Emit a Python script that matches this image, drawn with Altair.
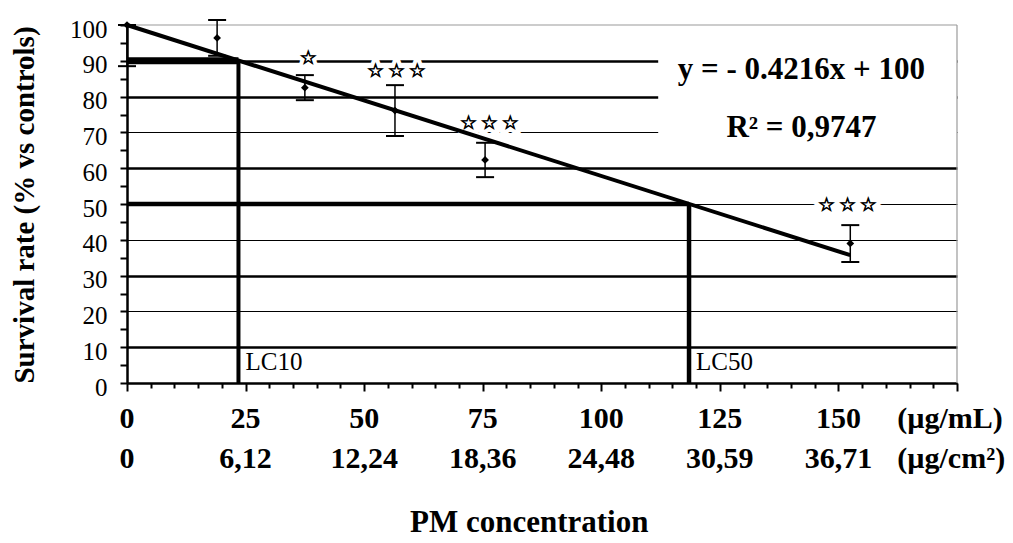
import altair as alt
import pandas as pd

FONT = "Liberation Serif"
STAR_FONT = "DejaVu Sans"

# ---- data ----
conc = [0, 19, 37.5, 56.5, 75.5, 152.5]          # µg/mL
mean = [100, 96.4, 82.5, 76.1, 62.3, 39.0]       # survival %
low = [88.5, 91.4, 79.0, 69.0, 57.5, 33.8]
high = [100, 101.4, 86.0, 83.2, 67.1, 44.1]

star_x = [38.2, 56.8, 76.4, 151.9]
star_y = [90.8, 87.2, 72.6, 49.7]
S = "\u2606"
T = "\u2009"
star_text = [S, S + T + S + T + S, S + T + S + T + S, S + T + S + T + S]

trend_x = [0, 152.5]
trend_y = [100, 35.7]

lc_label = ["LC10", "LC50"]
lc_x = [23.5, 118.5]
lc_y = [90, 50]

tick_ml = [0, 25, 50, 75, 100, 125, 150]
label_ml = ["0", "25", "50", "75", "100", "125", "150"]
label_cm = ["0", "6,12", "12,24", "18,36", "24,48", "30,59", "36,71"]
unit_ml = "(\u00b5g/mL)"
unit_cm = "(\u00b5g/cm\u00b2)"
x_title = "PM concentration"
y_title = "Survival rate (% vs controls)"

equation = "y = - 0.4216x + 100"
r2_text = "R\u00b2 = 0,9747"
eq_x = 142.2
eq_y = [87.4, 71.2]
box_x = [112, 175]
box_y = [61, 100]

# ---- scales / axes ----
xs = alt.Scale(domain=[0, 175], nice=False, zero=False)
ys = alt.Scale(domain=[0, 100], nice=False)

xaxis = alt.Axis(
    values=list(range(0, 176, 5)), labels=False, title=None, grid=False,
    domainColor="black", domainWidth=2.5, tickColor="black", tickWidth=2,
    tickSize={"condition": {"test": "datum.value % 25 === 0", "value": 8}, "value": 5},
)
yaxis = alt.Axis(
    values=list(range(0, 101, 5)),
    labelExpr="datum.value % 10 === 0 ? datum.label : ''",
    labelFont=FONT, labelFontSize=25, labelColor="black", labelPadding=13,
    labelOverlap=False, labelOffset=4, title=None,
    domainColor="black", domainWidth=2.5, tickColor="black", tickWidth=2, tickSize=7,
    grid=True, gridColor="black",
    gridWidth={"condition": {"test": "indexof([10, 30, 60, 80, 90], datum.value) >= 0", "value": 2.5}, "value": 1.2},
    gridOpacity={"condition": {"test": "datum.value % 10 !== 0 || datum.value >= 100", "value": 0}, "value": 1},
)


def X(f):
    return alt.X(f, type="quantitative", scale=xs, axis=xaxis, title=None)


def Y(f):
    return alt.Y(f, type="quantitative", scale=ys, axis=yaxis, title=None)


pts = pd.DataFrame({"conc": conc, "mean": mean, "low": low, "high": high})
caps = pd.DataFrame({"conc": conc + conc, "v": low + high})
stars = pd.DataFrame({"x": star_x, "y": star_y, "t": star_text})
trend = pd.DataFrame({"x": trend_x, "y": trend_y})
lcs = pd.DataFrame({"x": lc_x, "y": lc_y, "t": lc_label})
box = pd.DataFrame({"x": [box_x[0]], "x2": [box_x[1]], "y": [box_y[0]], "y2": [box_y[1]]})

refs = pd.DataFrame({
    "x": [0, 0, lc_x[0], lc_x[1], 0, 175],
    "x2": [lc_x[0], lc_x[1], lc_x[0], lc_x[1], 175, 175],
    "y": [lc_y[0], lc_y[1], 0, 0, 100, 0],
    "y2": [lc_y[0], lc_y[1], lc_y[0], lc_y[1], 100, 100],
    "w": [7, 4.5, 4, 4.5, 1.2, 1.2],
    "c": ["black", "black", "black", "black", "#9a9a9a", "#9a9a9a"],
})

row1 = pd.DataFrame({"x": tick_ml, "t": label_ml})
row2 = pd.DataFrame({"x": tick_ml, "t": label_cm})
units = pd.DataFrame({"x": [162.4, 162.4], "t": [unit_ml, unit_cm], "r": [0, 1]})
eqs = pd.DataFrame({"x": [eq_x, eq_x], "y": eq_y, "t": [equation, r2_text]})
one = pd.DataFrame({"t": [y_title]})
xt = pd.DataFrame({"x": [84.8], "t": [x_title]})

box_layer = alt.Chart(box).mark_rect(fill="white", strokeWidth=0).encode(
    x=X("x"), x2="x2", y=Y("y"), y2="y2")

halo = alt.Chart(stars).mark_text(font=STAR_FONT, fontSize=19, fontWeight="bold", stroke="white",
                                  strokeWidth=9, fill="white", baseline="middle").encode(
    x=X("x"), y=Y("y"), text="t")

ref_layer = alt.Chart(refs).mark_rule().encode(
    x=X("x"), x2="x2", y=Y("y"), y2="y2",
    strokeWidth=alt.StrokeWidth("w:Q", scale=None),
    color=alt.Color("c:N", scale=None))

err = alt.Chart(pts).mark_rule(color="black", strokeWidth=1.5).encode(
    x=X("conc"), y=Y("low"), y2="high")

cap_layer = alt.Chart(caps).mark_point(shape="M-1,0L1,0", size=324, color="black",
                                       strokeWidth=2, filled=False, opacity=1).encode(
    x=X("conc"), y=Y("v"))

trend_layer = alt.Chart(trend).mark_line(color="black", strokeWidth=4).encode(
    x=X("x"), y=Y("y"))

pt_layer = alt.Chart(pts).mark_point(shape="diamond", filled=True, size=60, color="black",
                                     opacity=1).encode(x=X("conc"), y=Y("mean"))

star_layer = alt.Chart(stars).mark_text(font=STAR_FONT, fontSize=19, fontWeight="bold",
                                        color="black", stroke="black", strokeWidth=0.8,
                                        baseline="middle").encode(
    x=X("x"), y=Y("y"), text="t")

eq_layer = alt.Chart(eqs).mark_text(font=FONT, fontSize=31, fontWeight="bold", color="black",
                                    baseline="middle").encode(
    x=X("x"), y=Y("y"), text="t")

lc_layer = alt.Chart(lcs).mark_text(font=FONT, fontSize=25, color="black", align="left",
                                    baseline="middle", dx=7).encode(
    x=X("x"), y=alt.value(337), text="t")

row1_layer = alt.Chart(row1).mark_text(font=FONT, fontSize=30, fontWeight="bold", color="black",
                                       baseline="alphabetic").encode(
    x=X("x"), y=alt.value(403), text="t")
row2_layer = alt.Chart(row2).mark_text(font=FONT, fontSize=30, fontWeight="bold", color="black",
                                       baseline="alphabetic").encode(
    x=X("x"), y=alt.value(443), text="t")
unit1 = alt.Chart(units).transform_filter("datum.r == 0").mark_text(
    font=FONT, fontSize=30, fontWeight="bold", color="black", align="left",
    baseline="alphabetic").encode(x=X("x"), y=alt.value(403), text="t")
unit2 = alt.Chart(units).transform_filter("datum.r == 1").mark_text(
    font=FONT, fontSize=30, fontWeight="bold", color="black", align="left",
    baseline="alphabetic").encode(x=X("x"), y=alt.value(443), text="t")

xtitle = alt.Chart(xt).mark_text(font=FONT, fontSize=31, fontWeight="bold", color="black",
                                 baseline="alphabetic").encode(
    x=X("x"), y=alt.value(507), text="t")
ytitle = alt.Chart(one).mark_text(font=FONT, fontSize=29, fontWeight="bold", color="black",
                                  angle=270, baseline="alphabetic", align="center").encode(
    x=alt.value(-93), y=alt.value(180), text="t")

chart = alt.layer(
    box_layer, halo, ref_layer, err, cap_layer, trend_layer, pt_layer, star_layer,
    eq_layer, lc_layer, row1_layer, row2_layer, unit1, unit2, xtitle, ytitle,
).properties(
    width=830, height=358,
    padding={"left": 119, "top": 17, "right": 48, "bottom": 160},
    autosize=alt.AutoSizeParams(type="none"),
    background="white",
).configure_view(stroke=None)

chart.save("out.html", embed_options={"renderer": "svg", "actions": False})
